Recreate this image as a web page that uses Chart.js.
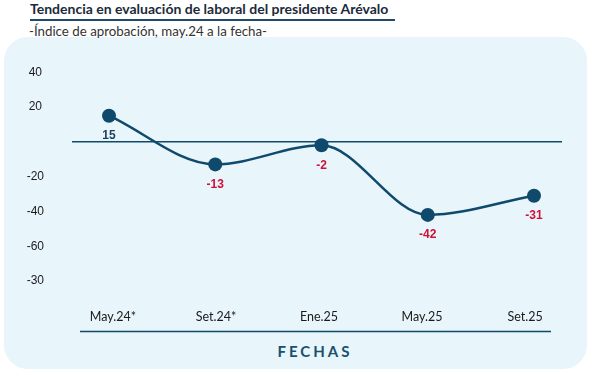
<!DOCTYPE html>
<html>
<head>
<meta charset="utf-8">
<script src="https://cdn.jsdelivr.net/npm/chart.js@4"></script>
<style>
  html, body { margin:0; padding:0; background:#ffffff; }
  #wrap { position:relative; width:593px; height:376px; overflow:hidden; }
  #panel { position:absolute; left:4px; top:37px; width:583px; height:332px; background:#e8f5fb; border-radius:24px; }
  #title { position:absolute; left:30px; top:0px; font-family:Lato, sans-serif; font-weight:700; font-size:14px; color:#1b2a3a; white-space:nowrap; }
  #rule { position:absolute; left:30px; top:19px; width:365px; height:1.5px; background:#1f4a6b; }
  #subtitle { position:absolute; left:29px; top:23px; font-family:Lato, sans-serif; font-size:13.3px; color:#333; white-space:nowrap; }
  #xtitle { position:absolute; left:0; width:630px; text-align:center; top:342px; font-family:Lato, sans-serif; font-weight:700; font-size:15px; letter-spacing:3px; color:#1a4f6e; }
  canvas { position:absolute; left:0; top:0; }
</style>
</head>
<body>
<div id="wrap">
  <div id="panel"></div>
  <div id="title">Tendencia en evaluación de laboral del presidente Arévalo</div>
  <div id="rule"></div>
  <div id="subtitle">-Índice de aprobación, may.24 a la fecha-</div>
  <div id="xtitle">FECHAS</div>
  <canvas id="c" width="593" height="376"></canvas>
</div>
<script>
const categories = ["May.24*", "Set.24*", "Ene.25", "May.25", "Set.25"];
const approval = [15, -13, -2, -42, -31];
const yTickValues = [40, 20, 0, -20, -40, -60, -80];
const yTickLabels = ["40", "20", "", "-20", "-40", "-60", "-30"];

const NAVY = "#0f4a6c";
const RED = "#cc1236";

const decor = {
  id: "decor",
  beforeDatasetsDraw(chart) {
    const ctx = chart.ctx;
    const y0 = chart.scales.y.getPixelForValue(0);
    ctx.save();
    ctx.strokeStyle = NAVY;
    ctx.lineWidth = 1.5;
    ctx.beginPath();
    ctx.moveTo(72, y0); ctx.lineTo(562, y0);
    ctx.moveTo(80, 331.5); ctx.lineTo(551, 331.5);
    ctx.stroke();
    ctx.restore();
  },
  afterDatasetsDraw(chart) {
    const ctx = chart.ctx;
    const meta = chart.getDatasetMeta(0);
    ctx.save();
    ctx.font = "bold 12px 'Liberation Sans', Arial, sans-serif";
    ctx.textAlign = "center";
    ctx.textBaseline = "middle";
    meta.data.forEach((pt, i) => {
      const v = chart.data.datasets[0].data[i];
      ctx.fillStyle = v < 0 ? RED : "#1c3f5c";
      ctx.fillText(String(v), pt.x, pt.y + 20);
    });
    ctx.restore();
  }
};

new Chart(document.getElementById("c"), {
  type: "line",
  data: {
    labels: categories,
    datasets: [{
      data: approval,
      borderColor: NAVY,
      backgroundColor: NAVY,
      borderWidth: 2.5,
      pointRadius: 7,
      pointHoverRadius: 7,
      pointBackgroundColor: NAVY,
      pointBorderWidth: 0,
      cubicInterpolationMode: "monotone",
      fill: false
    }]
  },
  options: {
    responsive: false,
    animation: false,
    devicePixelRatio: 1,
    layout: { padding: { left: 0, right: 59, top: 70, bottom: 45 } },
    plugins: { legend: { display: false }, tooltip: { enabled: false }, title: { display: false } },
    scales: {
      x: { type: "category", display: false, offset: false },
      xLabels: {
        type: "linear",
        position: "bottom",
        min: -0.0388,
        max: 4.087,
        grid: { display: false, drawTicks: false },
        border: { display: false },
        afterBuildTicks(scale) { scale.ticks = categories.map((_, i) => ({ value: i })); },
        afterFit(scale) { scale.height = 50; },
        ticks: {
          autoSkip: false,
          maxRotation: 0,
          padding: 28,
          color: "#1a1a1a",
          font: { family: "Lato, sans-serif", size: 12.5 },
          callback: (v) => categories[v] ?? ""
        }
      },
      y: {
        min: -80,
        max: 40,
        grid: { display: false, drawTicks: false },
        border: { display: false },
        afterBuildTicks(scale) { scale.ticks = yTickValues.map(v => ({ value: v })); },
        afterFit(scale) { scale.width = 109; },
        ticks: {
          padding: 65,
          crossAlign: "center",
          color: "#1a1a1a",
          font: { family: "'Liberation Sans', Arial, sans-serif", size: 12 },
          callback: (v) => { const i = yTickValues.indexOf(v); return i >= 0 ? yTickLabels[i] : ""; }
        }
      }
    }
  },
  plugins: [decor]
});
</script>
</body>
</html>
